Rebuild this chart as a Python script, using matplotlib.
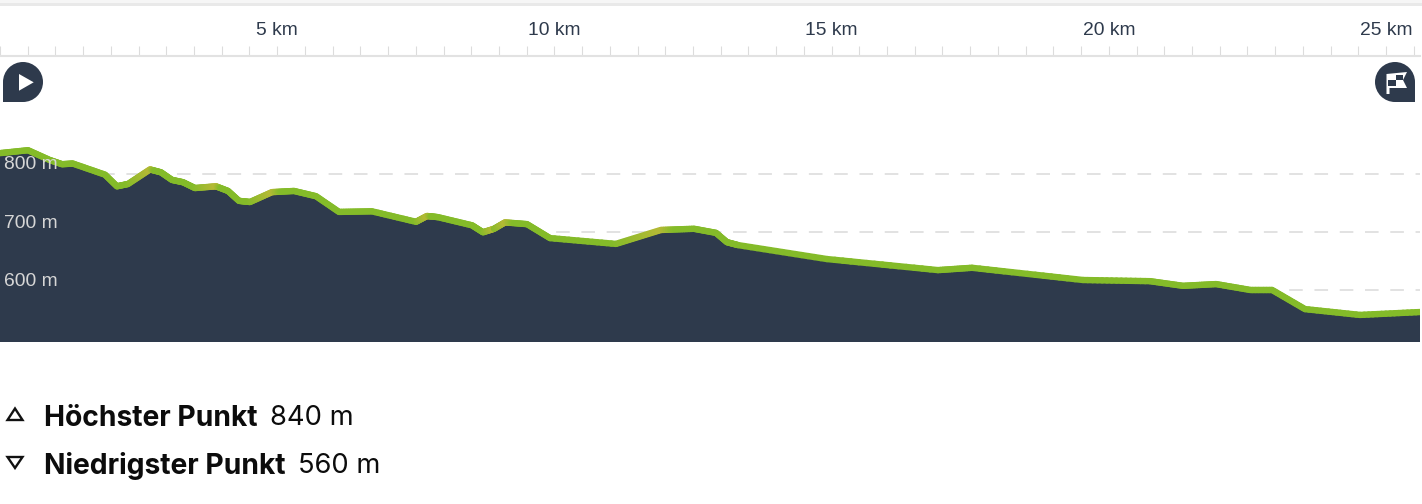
import matplotlib
matplotlib.use("Agg")
import matplotlib.pyplot as plt
from matplotlib.collections import LineCollection
from matplotlib.colors import to_rgb
from matplotlib.patches import Circle, Rectangle, Polygon
from matplotlib.ticker import MultipleLocator, FixedLocator, FuncFormatter
import numpy as np

W, H = 1422, 504
PX_KM = 55.44
PX_M = 0.582

distance_km = [0.000, 0.505, 0.902, 1.118, 1.317, 1.894, 2.110, 2.309, 2.706, 2.904, 3.102, 3.301, 3.517, 3.896,
               4.113, 4.311, 4.509, 4.906, 5.303, 5.700, 6.115, 6.710, 7.504, 7.702, 7.900, 8.514, 8.712, 8.911,
               9.109, 9.506, 9.921, 11.111, 11.923, 12.518, 12.915, 13.113, 13.312, 14.917, 16.919, 17.532,
               19.535, 20.743, 21.339, 21.934, 22.547, 22.944, 23.539, 24.531, 25.620]
elevation_m = [835, 840, 823, 816, 817, 798, 778, 782, 807, 802, 789, 785, 775, 778, 770,
               753, 751, 768, 770, 761, 734, 735, 717, 727, 725, 711, 699, 705, 716, 713,
               689, 679, 703, 705, 698, 682, 677, 653, 634, 638, 617, 615, 607, 610, 600,
               600, 567, 557, 562]
climb_segments = [7, 12, 16, 22, 26, 27, 31]
y_ticks = [600, 700, 800]
km_labels = [5, 10, 15, 20, 25]
summary = [("Höchster Punkt", "840 m"), ("Niedrigster Punkt", "560 m")]

NAVY = "#2e3a4c"
GREEN = "#84bb29"
OLIVE = "#b3b935"

plt.rcParams["font.family"] = ["Liberation Sans", "DejaVu Sans"]
fig = plt.figure(figsize=(W / 100, H / 100), dpi=100, facecolor="white")

# chart axes: pixel box x 0..1420, y 56..341.5
top, bottom, right = 56, 341.5, 1420
ax = fig.add_axes([0, 1 - bottom / H, right / W, (bottom - top) / H])
ax.set_xlim(0, right / PX_KM)
y0 = 800 - (bottom - 173.5) / PX_M
ax.set_ylim(y0, y0 + (bottom - top) / PX_M)
ax.set_facecolor("white")

for y in y_ticks:
    ax.axhline(y, color="#e2e2e2", lw=1.4, dashes=(7, 6), zorder=1)
ax.fill_between(distance_km, elevation_m, y0, facecolor=NAVY, edgecolor=NAVY, lw=1.5, zorder=2)

xs, ys = np.array(distance_km), np.array(elevation_m)
g, o = np.array(to_rgb(GREEN)), np.array(to_rgb(OLIVE))
segs, cols = [], []
for i in range(len(xs) - 1):
    n = 14
    t = np.linspace(0, 1, n + 1)
    px = xs[i] + (xs[i + 1] - xs[i]) * t
    py = ys[i] + (ys[i + 1] - ys[i]) * t
    for k in range(n):
        segs.append([(px[k], py[k]), (px[k + 1], py[k + 1])])
        w = t[k + 1] if i in climb_segments else 0.0
        if (i - 1) in climb_segments and i not in climb_segments:
            w = max(0.0, 1 - 2.5 * t[k])
        cols.append(tuple(g + (o - g) * w))
lc = LineCollection(segs, colors=cols, linewidths=4.6, capstyle="round", zorder=3)
ax.add_collection(lc)

for y in y_ticks:
    ax.annotate(f"{y} m", (0, y), xytext=(3, 6.2), textcoords="offset points", ha="left",
                va="center", color="#d6d6d6", fontsize=13.9, zorder=4)

for s in ["left", "right", "bottom"]:
    ax.spines[s].set_visible(False)
ax.spines["top"].set_color("#e2e2e2")
ax.spines["top"].set_linewidth(1.5)
ax.set_yticks([])
ax.xaxis.tick_top()
ax.xaxis.set_major_locator(FixedLocator(km_labels))
ax.xaxis.set_major_formatter(FuncFormatter(lambda v, p: f"{int(v)} km"))
ax.xaxis.set_minor_locator(MultipleLocator(0.5))
ax.tick_params(axis="x", which="both", length=7.2, width=0.8, color="#dcdcdc", direction="out")
ax.tick_params(axis="x", which="major", pad=5.2, labelsize=13.9, labelcolor=NAVY)

# overlay in pixels for UI decoration
ov = fig.add_axes([0, 0, 1, 1], facecolor="none")
ov.set_xlim(0, W)
ov.set_ylim(H, 0)
ov.axis("off")
ov.add_patch(Rectangle((0, 0), W, 3, color="#f6f6f6", lw=0))
ov.add_patch(Rectangle((0, 3), W, 2.5, color="#e9e9e9", lw=0))
# trim the fill's stroke to the chart box
ov.add_patch(Rectangle((1420, 57), 2, 290, color="white", lw=0))
ov.add_patch(Rectangle((0, 342), W, 4, color="white", lw=0))

# start marker
ov.add_patch(Circle((23, 82), 20, color=NAVY, lw=0))
ov.add_patch(Rectangle((3, 82), 20, 20, color=NAVY, lw=0))
ov.add_patch(Polygon([(19, 74), (33.7, 82.3), (19, 90.7)], color="white", lw=0))
# finish marker
ov.add_patch(Circle((1395, 82), 20, color=NAVY, lw=0))
ov.add_patch(Rectangle((1395, 82), 20, 20, color=NAVY, lw=0))
ov.add_patch(Polygon([(1386.5, 74), (1407, 72), (1403, 80), (1407, 88), (1389.5, 88), (1389.5, 94), (1386.5, 94)],
                     color="white", lw=0))
ov.add_patch(Rectangle((1388.3, 80), 7.5, 6, color=NAVY, lw=0))
ov.add_patch(Rectangle((1395.8, 75), 6.9, 5, color=NAVY, lw=0))

# summary
ov.add_patch(Polygon([(15, 408.5), (22.5, 420), (7.5, 420)], fc="none", ec="#111111", lw=1.7))
ov.add_patch(Polygon([(15, 468), (22.5, 457), (7.5, 457)], fc="none", ec="#111111", lw=1.7))
r = fig.canvas.get_renderer()
for (name, value), yc in zip(summary, [418, 466]):
    t = ov.text(44, yc, name, family="Inter", weight="bold", fontsize=20.3, color="#0c0c0c", va="center", ha="left")
    e = t.get_window_extent(r)
    ov.text(e.x1 + 13, yc, value, family="Inter", fontsize=19.7, color="#0c0c0c", va="center", ha="left")

fig.savefig("out.png", dpi=100, facecolor="white")
